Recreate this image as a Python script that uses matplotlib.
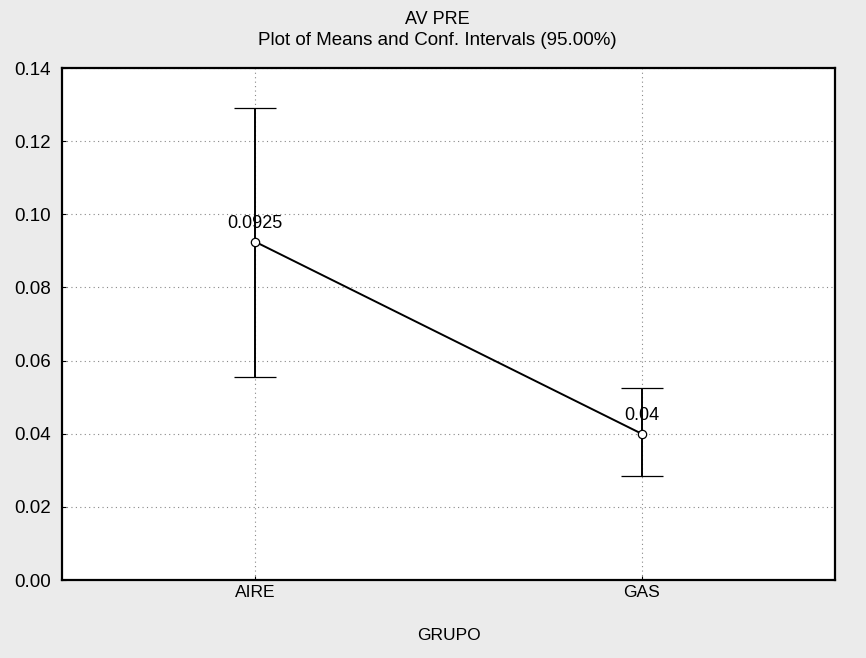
import matplotlib
matplotlib.use("Agg")
import matplotlib.pyplot as plt

categories = ["AIRE", "GAS"]
means = [0.0925, 0.04]
ci_lower = [0.0555, 0.0285]
ci_upper = [0.1290, 0.0525]
labels = ["0.0925", "0.04"]
yticks = [0.00, 0.02, 0.04, 0.06, 0.08, 0.10, 0.12, 0.14]

plt.rcParams['font.family'] = ['Liberation Sans', 'DejaVu Sans']

fig = plt.figure(figsize=(8.66, 6.58), dpi=100)
fig.patch.set_facecolor('#ebebeb')
ax = fig.add_axes([0.0716, 0.1185, 0.8925, 0.778])
ax.set_facecolor('white')

x = list(range(len(categories)))
yerr = [[m - l for m, l in zip(means, ci_lower)], [u - m for m, u in zip(means, ci_upper)]]
ax.errorbar(x, means, yerr=yerr, color='black', lw=1.4, capsize=15, capthick=1.4,
            marker='o', markersize=6, markerfacecolor='white', markeredgecolor='black',
            markeredgewidth=0.9, zorder=3)
for xi, m, t in zip(x, means, labels):
    ax.annotate(t, (xi, m), xytext=(0, 7), textcoords='offset points', ha='center',
                va='bottom', fontsize=13)

ax.set_xlim(-0.5, 1.5)
ax.set_ylim(0, 0.14)
ax.set_xticks(x)
ax.set_xticklabels(categories, fontsize=12.5)
ax.set_yticks(yticks)
ax.set_yticklabels([f"{v:.2f}" for v in yticks], fontsize=13.5)
ax.grid(True, color='#888888', linestyle=(0, (1, 3)), linewidth=0.8)
ax.tick_params(direction='in', length=3, color='black')
ax.tick_params(axis='y', pad=8)
for s in ax.spines.values():
    s.set_linewidth(1.6)
ax.set_xlabel("GRUPO", fontsize=12.5, labelpad=20)
fig.text(0.505, 0.970, "AV PRE", ha='center', va='center', fontsize=13)
fig.text(0.505, 0.938, "Plot of Means and Conf. Intervals (95.00%)", ha='center', va='center', fontsize=13.5)
fig.savefig("out.png", dpi=100, facecolor=fig.get_facecolor())
